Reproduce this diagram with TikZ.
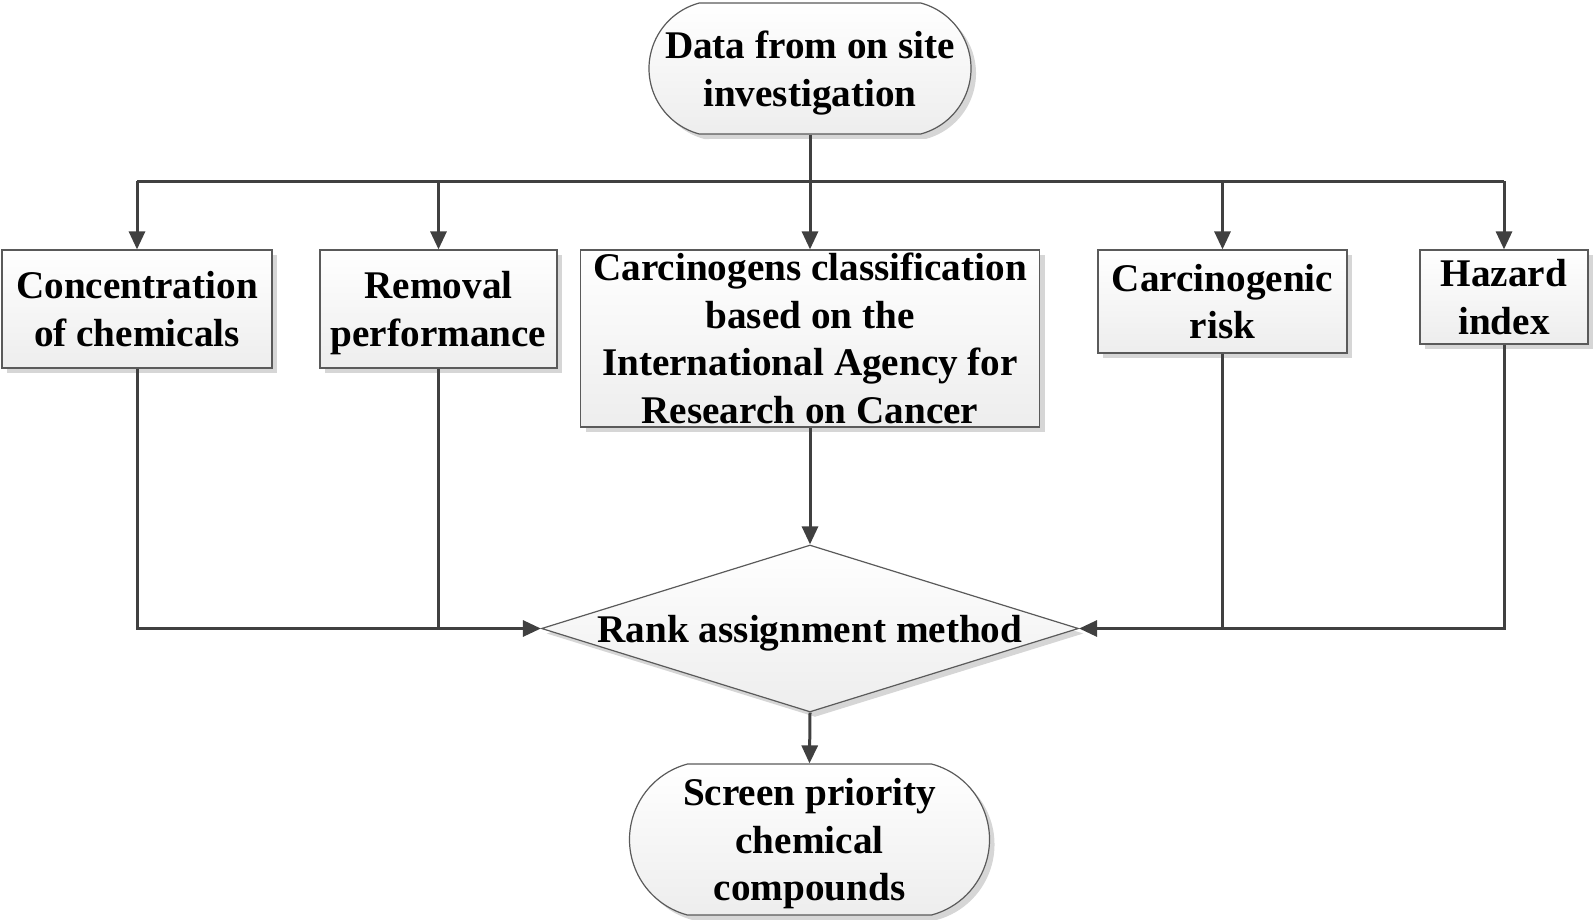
\documentclass[tikz,border=0pt]{standalone}
\usepackage{fontspec}
\setmainfont{Liberation Serif}
\usetikzlibrary{shapes.geometric,shapes.misc,shadows,arrows.meta}
\definecolor{conn}{HTML}{404040}
\definecolor{bord}{HTML}{5A5A5A}
\newcommand{\nodp}[1]{\raisebox{0pt}[\height][0pt]{#1}}
\tikzset{
  base/.style={draw=bord, line width=0.6pt, shade, top color=white, bottom color=black!7,
    drop shadow={shadow xshift=2.5pt, shadow yshift=-2.5pt, fill=black!16, opacity=1},
    font=\bfseries\fontsize{19.6}{23.8}\selectfont, align=center, inner sep=0pt},
  boxn/.style={base, rectangle},
  term/.style={base, rounded rectangle, rounded rectangle arc length=150},
  dia/.style={base, diamond},
  conn/.style={draw=conn, line width=1.5pt},
  arr/.style={conn, -{Triangle[length=9pt,width=8pt]}},
}
\begin{document}
\begin{tikzpicture}[x=0.5pt,y=-0.5pt]
\useasboundingbox (0,0) rectangle (1594,920);
\node[term, minimum width=161pt, minimum height=65.5pt] (top) at (810,68.5) {Data from on site\\\nodp{investigation}};
\node[boxn, minimum width=135pt, minimum height=59pt] (b1) at (137,309) {Concentration\\of chemicals};
\node[boxn, minimum width=118.5pt, minimum height=59pt] (b2) at (438.5,309) {Removal\\\nodp{performance}};
\node[boxn, minimum width=229.5pt, minimum height=88.5pt] (b3) at (810,338.5) {Carcinogens classification\\based on the\\International Agency for\\Research on Cancer};
\node[boxn, minimum width=124.5pt, minimum height=51.5pt] (b4) at (1222.5,301.5) {Carcinogenic\\risk};
\node[boxn, minimum width=84pt, minimum height=47pt] (b5) at (1504,297) {Hazard\\index};
\node[dia, minimum width=268.5pt, minimum height=83.5pt] (rank) at (810,628.5) {\makebox[0pt]{\nodp{Rank assignment method}}};
\node[term, minimum width=180pt, minimum height=75.5pt] (bot) at (809.5,839.5) {Screen priority\\chemical\\\nodp{compounds}};
\coordinate (bus) at (810,181);
% top distribution
\draw[conn] (top.south) -- (bus);
\draw[conn] (b1.north |- bus) -- (b5.north |- bus);
\draw[arr] (b1.north |- bus) -- (b1.north);
\draw[arr] (b2.north |- bus) -- (b2.north);
\draw[arr] (bus) -- (b3.north);
\draw[arr] (b4.north |- bus) -- (b4.north);
\draw[arr] (b5.north |- bus) -- (b5.north);
% collection
\draw[arr] (b1.south) |- (rank.west);
\draw[conn] (b2.south) -- (b2.south |- rank.west);
\draw[arr] (b5.south) |- (rank.east);
\draw[conn] (b4.south) -- (b4.south |- rank.east);
\draw[arr] (b3.south) -- (rank.north);
\draw[arr] (rank.south) -- (bot.north);
\end{tikzpicture}
\end{document}
